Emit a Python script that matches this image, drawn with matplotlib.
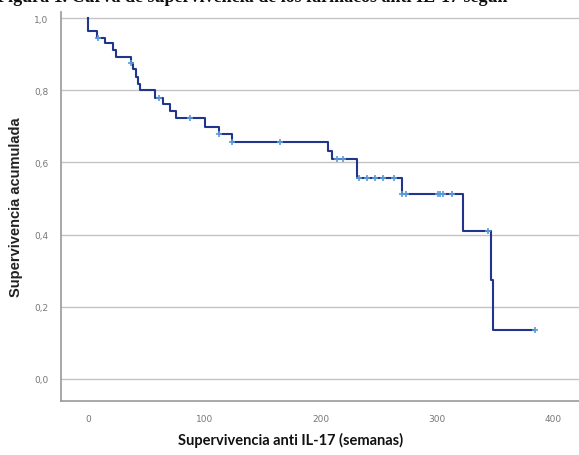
import numpy as np
import matplotlib
matplotlib.use("Agg")
import matplotlib.pyplot as plt
from matplotlib.ticker import FuncFormatter

# Kaplan-Meier steps (time in weeks, survival after the drop)
step_times = [0, 7.5, 15, 22, 24, 37, 39, 41, 43, 45, 57.6, 65, 70.5, 76, 101, 113,
              124, 206, 210, 231, 270, 322, 346.5, 348.5]
step_surv = [0.965, 0.945, 0.932, 0.912, 0.893, 0.875, 0.859, 0.838, 0.817, 0.80,
             0.78, 0.762, 0.743, 0.722, 0.699, 0.679, 0.656, 0.633, 0.611, 0.557,
             0.513, 0.411, 0.275, 0.137]
censor_times = [9, 37, 61, 88, 113, 124, 165, 214, 219, 233, 240, 247, 254, 263,
                270, 273, 301, 303, 305, 313, 344, 384]
end_time = 384

xticks = [0, 100, 200, 300, 400]
yticks = [0.0, 0.2, 0.4, 0.6, 0.8, 1.0]

fig = plt.figure(figsize=(5.79, 4.56), dpi=100)
ax = fig.add_axes([0.1054, 0.1184, 0.8946, 0.8531])

# step curve
xs = [0] + step_times + [end_time]
ys = [1.0] + step_surv + [step_surv[-1]]
ax.step(xs, ys, where='post', color='#22358c', lw=1.5, zorder=3)

# censor marks at the survival level in force at that time
ct = np.array(censor_times, dtype=float)
idx = np.searchsorted(np.array(step_times), ct, side='right')
cy = np.array(step_surv)[idx - 1]
ax.plot(ct, cy, '+', color='#5b9bd5', ms=5, mew=1.2, zorder=4)

ax.set_xlim(-23, 422)
ax.set_ylim(-0.061, 1.017)
ax.set_xticks(xticks)
ax.set_yticks(yticks)
ax.yaxis.set_major_formatter(FuncFormatter(lambda v, p: f"{v:.1f}".replace('.', ',')))
ax.tick_params(length=0, labelsize=6.5, colors='#777777', pad=9)
ax.grid(axis='y', color='#c4c4c4', lw=1.0)
ax.set_axisbelow(True)
for s in ['top', 'right']:
    ax.spines[s].set_visible(False)
for s in ['left', 'bottom']:
    ax.spines[s].set_color('#999999')
    ax.spines[s].set_linewidth(1.2)

ax.set_ylabel('Supervivencia acumulada', fontsize=10.5, fontweight='bold',
              family='Liberation Sans', color='#222222', labelpad=8)
fig.text(0.502, 0.035, 'Supervivencia anti IL-17 (semanas)', ha='center', va='center',
         fontsize=10.5, fontweight='bold', family='Lato', color='#111111')

# title cut off at the top edge, as in the source figure
fig.text(-0.005, 1.006, 'Figura 1. Curva de supervivencia de los fármacos anti IL-17 según',
         ha='left', va='center', fontsize=13, fontweight='bold',
         family='Liberation Serif', color='#111111')

fig.savefig('out.png', dpi=100)
